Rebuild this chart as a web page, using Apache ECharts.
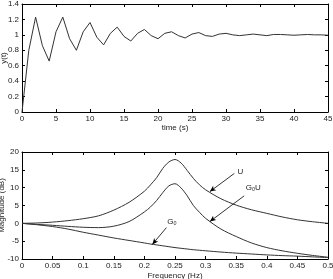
<!DOCTYPE html>
<html>
<head>
<meta charset="utf-8">
<script src="https://cdn.jsdelivr.net/npm/echarts@6/dist/echarts.min.js"></script>
<style>
  html, body { margin: 0; padding: 0; background: #fff; }
  #chart { width: 333px; height: 279px; }
</style>
</head>
<body>
<div id="chart"></div>
<script>
// step response y(t), sampled every second
const times = [0,1,2,3,4,5,6,7,8,9,10,11,12,13,14,15,16,17,18,19,20,21,22,23,24,25,26,27,28,29,30,31,32,33,34,35,36,37,38,39,40,41,42,43,44,45];
const yt = [0,0.8,1.23,0.86,0.66,1.04,1.23,0.95,0.8,1.04,1.16,0.97,0.87,1.02,1.1,0.98,0.92,1.02,1.07,0.99,0.95,1.02,1.04,0.99,0.96,1.01,1.03,0.99,0.98,1.01,1.02,1.0,0.99,1.0,1.01,1.0,0.99,1.005,1.005,1.0,0.995,1.0,1.005,1.0,1.0,0.995];

// magnitude curves (dB) vs frequency (Hz)
const freq = [0,0.025,0.05,0.075,0.1,0.125,0.15,0.175,0.2,0.21,0.22,0.23,0.24,0.25,0.26,0.27,0.28,0.29,0.3,0.325,0.35,0.375,0.4,0.425,0.45,0.475,0.5];
const magU = [0,0.1,0.35,0.75,1.3,2.1,3.7,5.9,9.0,10.8,12.8,15.4,17.2,17.9,16.9,14.8,12.6,10.8,9.4,6.9,5.1,3.8,2.8,1.8,1.0,0.45,0];
const magGoU = [0,-0.3,-0.55,-0.85,-1.1,-1.2,-0.8,0.5,3.2,4.6,6.4,8.6,10.5,11.1,9.9,7.7,5.0,3.1,1.4,-1.6,-3.7,-5.5,-6.8,-7.7,-8.4,-9.0,-9.5];
const magGo = [0,-0.4,-0.9,-1.6,-2.5,-3.3,-4.1,-4.8,-5.5,-5.8,-6.05,-6.3,-6.55,-6.8,-7.0,-7.2,-7.4,-7.55,-7.7,-8.05,-8.35,-8.6,-8.85,-9.05,-9.2,-9.4,-9.6];

const FONT = '"Liberation Sans", Arial, sans-serif';
const lineColor = '#333';

const chart = echarts.init(document.getElementById('chart'), null, { renderer: 'canvas' });

// axis with inside ticks, optional labels (matlab style box)
function axis (gridIndex, position, opts, showLabel) {
  return Object.assign({
    type: 'value',
    gridIndex: gridIndex,
    position: position,
    nameMoveOverlap: false,
    axisLine: { show: true, onZero: false, lineStyle: { color: '#000', width: 1 } },
    axisTick: { show: true, inside: true, length: 3, lineStyle: { color: '#000' } },
    axisLabel: { show: showLabel, fontSize: 8, color: '#222', fontFamily: FONT, margin: 3 },
    splitLine: { show: false },
    nameTextStyle: { fontSize: 8, color: '#222', fontFamily: FONT }
  }, opts);
}

const xTop = { min: 0, max: 45, interval: 5 };
const yTop = { min: 0, max: 1.4, interval: 0.2 };
const xBot = { min: 0, max: 0.5, interval: 0.05 };
const yBot = { min: -10, max: 20, interval: 5 };

function pairs (xs, ys) {
  return xs.map((x, i) => [x, ys[i]]);
}

const arrowStyle = { color: '#000', width: 0.8, type: 'solid' };

function arrow (from, to) {
  return [{ coord: from }, { coord: to }];
}

function tag (coord, text) {
  return {
    coord: coord,
    symbol: 'circle',
    symbolSize: 0,
    label: { show: true, formatter: text, fontSize: 8, color: '#222', fontFamily: FONT, position: 'inside' }
  };
}

const option = {
  animation: false,
  backgroundColor: '#fff',
  grid: [
    { left: 22, top: 4, width: 306, height: 108, outerBoundsMode: 'none', containLabel: false },
    { left: 22, top: 152, width: 306, height: 107, outerBoundsMode: 'none', containLabel: false }
  ],
  xAxis: [
    axis(0, 'bottom', Object.assign({ name: 'time (s)', nameLocation: 'middle', nameGap: 12 }, xTop), true),
    axis(0, 'top', xTop, false),
    axis(1, 'bottom', Object.assign({ name: 'Frequency (Hz)', nameLocation: 'middle', nameGap: 13 }, xBot), true),
    axis(1, 'top', xBot, false)
  ],
  yAxis: [
    axis(0, 'left', Object.assign({ name: 'y(t)', nameLocation: 'middle', nameGap: 14 }, yTop), true),
    axis(0, 'right', yTop, false),
    axis(1, 'left', Object.assign({ name: 'Magnitude (dB)', nameLocation: 'middle', nameGap: 16 }, yBot), true),
    axis(1, 'right', yBot, false)
  ],
  series: [
    {
      type: 'line',
      xAxisIndex: 0,
      yAxisIndex: 0,
      data: pairs(times, yt),
      showSymbol: false,
      lineStyle: { color: lineColor, width: 1 }
    },
    {
      name: 'U',
      type: 'line',
      xAxisIndex: 2,
      yAxisIndex: 2,
      data: pairs(freq, magU),
      smooth: 0.3,
      showSymbol: false,
      lineStyle: { color: lineColor, width: 1 },
      markLine: {
        silent: true,
        symbol: ['none', 'arrow'],
        symbolSize: [4, 6],
        lineStyle: arrowStyle,
        label: { show: false },
        data: [arrow([0.347, 14.0], [0.307, 8.9])]
      },
      markPoint: { silent: true, data: [tag([0.357, 14.4], 'U')] }
    },
    {
      name: 'GoU',
      type: 'line',
      xAxisIndex: 2,
      yAxisIndex: 2,
      data: pairs(freq, magGoU),
      smooth: 0.3,
      showSymbol: false,
      lineStyle: { color: lineColor, width: 1 },
      markLine: {
        silent: true,
        symbol: ['none', 'arrow'],
        symbolSize: [4, 6],
        lineStyle: arrowStyle,
        label: { show: false },
        data: [arrow([0.363, 7.7], [0.307, 0.5])]
      },
      markPoint: { silent: true, data: [tag([0.378, 10.0], 'G\u2092U')] }
    },
    {
      name: 'Go',
      type: 'line',
      xAxisIndex: 2,
      yAxisIndex: 2,
      data: pairs(freq, magGo),
      smooth: 0.3,
      showSymbol: false,
      lineStyle: { color: lineColor, width: 1 },
      markLine: {
        silent: true,
        symbol: ['none', 'arrow'],
        symbolSize: [4, 6],
        lineStyle: arrowStyle,
        label: { show: false },
        data: [arrow([0.236, -1.2], [0.213, -5.9])]
      },
      markPoint: { silent: true, data: [tag([0.245, 0.3], 'G\u2092')] }
    }
  ]
};

chart.setOption(option);
</script>
</body>
</html>
